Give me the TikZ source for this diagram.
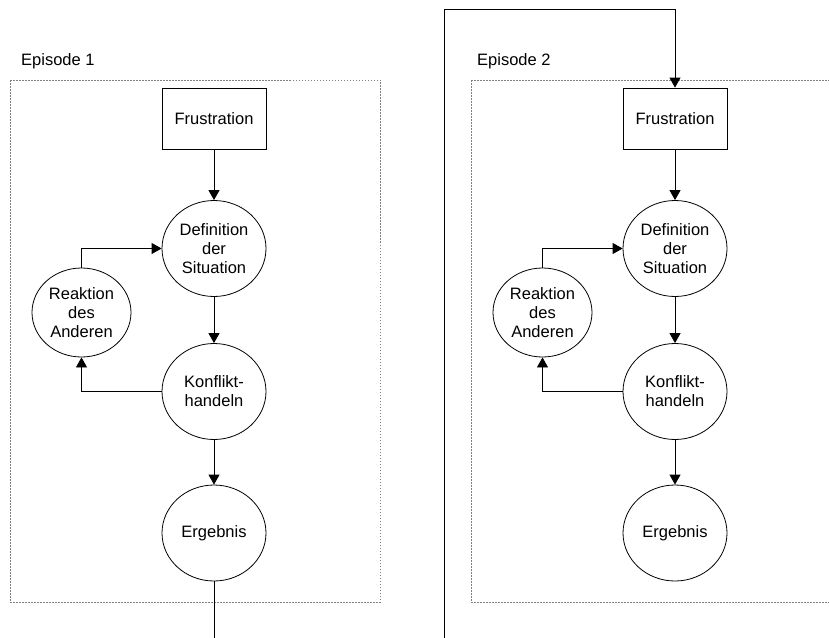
\documentclass[tikz,border=0pt]{standalone}
\usepackage{fontspec}
\setmainfont{Liberation Sans}
\usetikzlibrary{shapes.geometric,arrows.meta}
\begin{document}
\begin{tikzpicture}[x=1pt,y=-1pt, font=\fontsize{16.5}{19}\selectfont,
 box/.style={draw, line width=0.8pt, minimum width=104pt, minimum height=61pt, inner sep=0pt},
 oval/.style={draw, ellipse, line width=0.8pt, minimum width=104pt, minimum height=96pt, inner sep=0pt, align=center},
 small oval/.style={oval, minimum width=99pt, minimum height=89pt},
 conn/.style={line width=0.8pt, -{Triangle[length=10pt,width=11pt]}},
 plain/.style={line width=0.8pt},
 episode/.style={draw=gray, line width=0.8pt, dash pattern=on 1.5pt off 1.5pt}]
\useasboundingbox (0,0) rectangle (829,637);
% Episode 1
\draw[episode] (10,80) rectangle (380,602);
\node[anchor=base west, inner sep=0pt] (ep1) at (21,65) {Episode 1};
\node[box] (f1) at (214,118.5) {Frustration};
\node[oval] (d1) at (214,248.5) {Definition\\der\\Situation};
\node[small oval] (r1) at (81.5,312.5) {Reaktion\\des\\Anderen};
\node[oval] (k1) at (214,391.5) {Konflikt-\\handeln};
\node[oval] (e1) at (214,533) {Ergebnis};
\draw[conn] (f1) -- (d1);
\draw[conn] (d1) -- (k1);
\draw[conn] (k1) -- (e1);
\draw[conn] (r1.north) |- (d1.west);
\draw[conn] (k1.west) -| (r1.south);
\coordinate (out1) at (214,640);
\draw[plain] (e1) -- (out1);
% Episode 2
\draw[episode] (471,80) -- (845,80) (471,80) -- (471,602) -- (845,602);
\node[anchor=base west, inner sep=0pt] (ep2) at (477,65) {Episode 2};
\node[box] (f2) at (675,118.5) {Frustration};
\node[oval] (d2) at (675,248.5) {Definition\\der\\Situation};
\node[small oval] (r2) at (542.5,312.5) {Reaktion\\des\\Anderen};
\node[oval] (k2) at (675,391.5) {Konflikt-\\handeln};
\node[oval] (e2) at (675,533) {Ergebnis};
\draw[conn] (f2) -- (d2);
\draw[conn] (d2) -- (k2);
\draw[conn] (k2) -- (e2);
\draw[conn] (r2.north) |- (d2.west);
\draw[conn] (k2.west) -| (r2.south);
% link between episodes
\coordinate (in2) at (444,640);
\coordinate (top2) at (444,9.3);
\draw[conn] (in2) -- (top2) -| (f2.north);
\end{tikzpicture}
\end{document}
